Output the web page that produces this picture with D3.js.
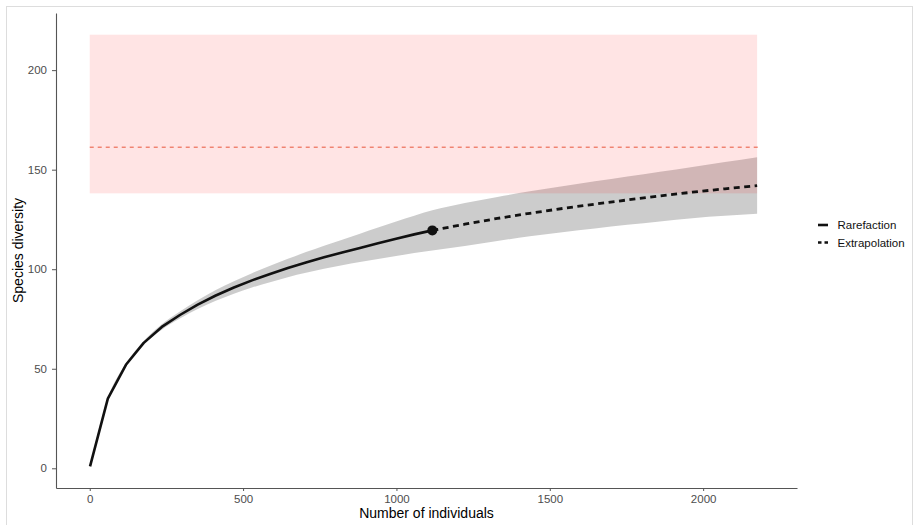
<!DOCTYPE html>
<html><head><meta charset="utf-8">
<script src="https://cdn.jsdelivr.net/npm/d3@7"></script>
<style>
html,body{margin:0;padding:0;background:#fff;}
svg{display:block;font-family:"Liberation Sans",Arial,sans-serif;}
</style></head>
<body>
<svg id="chart" width="919" height="525"></svg>
<script>
// ---- data ----
const rareX  = [1, 59, 118, 176, 235, 294, 352, 411, 470, 529, 588, 646, 705, 764, 823, 881, 940, 999, 1058, 1117];
const rareY  = [1, 35, 52, 63, 71, 77, 82.2, 86.8, 90.8, 94.4, 97.6, 100.6, 103.4, 106.0, 108.4, 110.7, 113.0, 115.3, 117.5, 119.5];
const rareLo = [1, 34.7, 51.3, 62.0, 69.6, 75.2, 80.0, 84.1, 87.7, 90.8, 93.5, 96.0, 98.2, 100.2, 102.0, 103.6, 105.1, 106.6, 108.1, 109.4];
const rareHi = [1, 35.3, 52.7, 64.0, 72.4, 78.8, 84.4, 89.5, 93.9, 98.0, 101.7, 105.2, 108.6, 111.8, 114.8, 117.8, 120.9, 124.0, 126.9, 129.6];
const extX  = [1117, 1223, 1329, 1435, 1541, 1647, 1753, 1859, 1965, 2071, 2176];
const extY  = [119.5, 122.6, 125.5, 128.1, 130.5, 132.7, 134.8, 136.8, 138.7, 140.4, 142.0];
const extLo = [109.4, 111.7, 114.2, 116.5, 118.6, 120.5, 122.3, 124.0, 125.6, 126.8, 127.8];
const extHi = [129.6, 133.3, 136.3, 139.1, 141.7, 144.2, 146.6, 149.0, 151.4, 153.9, 156.3];
const observed = {x: 1117, y: 119.5};
const refBand = {x0: 0, x1: 2176, y0: 138.1, y1: 217.8, mid: 161.3};
const xTicks = [0, 500, 1000, 1500, 2000];
const yTicks = [0, 50, 100, 150, 200];
const legendLabels = ["Rarefaction", "Extrapolation"];

// ---- layout ----
const svg = d3.select("#chart");
const L = 56, R = 797, T = 13, B = 488;
const x = d3.scaleLinear().domain([-110, 2306]).range([L, R]);
const y = d3.scaleLinear().domain([-9.9, 228.7]).range([B, T]);

// outer frame
svg.append("rect").attr("x", 6.5).attr("y", 6.5).attr("width", 906).attr("height", 530)
  .attr("fill", "none").attr("stroke", "#dddddd").attr("stroke-width", 1);

const rare = rareX.map((v, i) => ({x: v, y: rareY[i], lo: rareLo[i], hi: rareHi[i]}));
const ext = extX.map((v, i) => ({x: v, y: extY[i], lo: extLo[i], hi: extHi[i]}));
const all = rare.concat(ext.slice(1));

// confidence band
const area = d3.area().x(d => x(d.x)).y0(d => y(d.lo)).y1(d => y(d.hi)).curve(d3.curveMonotoneX);
svg.append("path").datum(all).attr("d", area).attr("fill", "#000").attr("fill-opacity", 0.2);

// reference band (semi-transparent red)
svg.append("rect")
  .attr("x", x(refBand.x0)).attr("width", x(refBand.x1) - x(refBand.x0))
  .attr("y", y(refBand.y1)).attr("height", y(refBand.y0) - y(refBand.y1))
  .attr("fill", "#ff0000").attr("fill-opacity", 0.105);
svg.append("line")
  .attr("x1", x(refBand.x0)).attr("x2", x(refBand.x1) + 3)
  .attr("y1", y(refBand.mid)).attr("y2", y(refBand.mid))
  .attr("stroke", "#e8553a").attr("stroke-width", 1).attr("stroke-dasharray", "4,4");

// lines
const line = d3.line().x(d => x(d.x)).y(d => y(d.y));
svg.append("path").datum(rare).attr("d", line).attr("fill", "none")
  .attr("stroke", "#111").attr("stroke-width", 2.6).attr("stroke-linejoin", "round");
svg.append("path").datum(ext).attr("d", line).attr("fill", "none")
  .attr("stroke", "#111").attr("stroke-width", 2.8).attr("stroke-dasharray", "6,4.5");
svg.append("circle").attr("cx", x(observed.x)).attr("cy", y(observed.y)).attr("r", 5).attr("fill", "#111");

// axes
const xAxis = svg.append("g").attr("transform", `translate(0,${B})`)
  .call(d3.axisBottom(x).tickValues(xTicks).tickFormat(d3.format("d")).tickSize(3).tickSizeOuter(0).tickPadding(4));
const yAxis = svg.append("g").attr("transform", `translate(${L},0)`)
  .call(d3.axisLeft(y).tickValues(yTicks).tickFormat(d3.format("d")).tickSize(4).tickSizeOuter(0).tickPadding(5));
[xAxis, yAxis].forEach(g => {
  g.select(".domain").attr("stroke", "#555").attr("stroke-width", 1.1);
  g.selectAll(".tick line").attr("stroke", "#555");
  g.selectAll(".tick text").attr("fill", "#4d4d4d").attr("font-size", 11.5)
    .attr("font-family", '"Liberation Sans",Arial,sans-serif');
});

// axis titles
svg.append("text").attr("x", (L + R) / 2).attr("y", 518).attr("text-anchor", "middle")
  .attr("font-size", 14).attr("fill", "#000").text("Number of individuals");
svg.append("text").attr("transform", `translate(23,${(T + B) / 2}) rotate(-90)`)
  .attr("text-anchor", "middle").attr("font-size", 14).attr("fill", "#000").text("Species diversity");

// legend
const lg = svg.append("g");
legendLabels.forEach((lab, i) => {
  const yy = 225 + i * 17.5;
  lg.append("line").attr("x1", 818).attr("x2", 828).attr("y1", yy).attr("y2", yy)
    .attr("stroke", "#111").attr("stroke-width", 2.6)
    .attr("stroke-dasharray", i === 1 ? "3.5,3" : null);
  lg.append("text").attr("x", 837.5).attr("y", yy + 4).attr("font-size", 11.5)
    .attr("fill", "#111").text(lab);
});
</script>
</body></html>
